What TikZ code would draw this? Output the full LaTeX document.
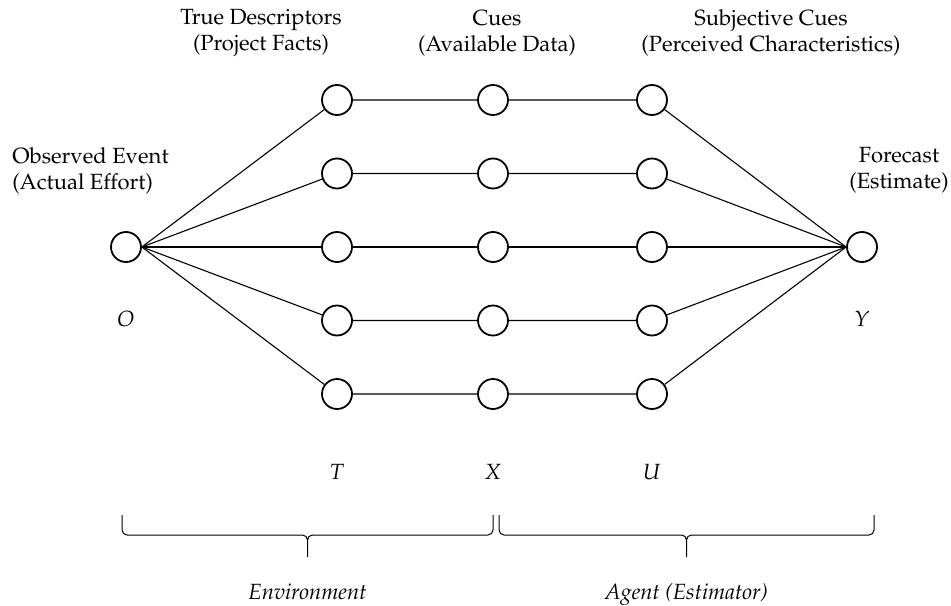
\documentclass[tikz,border=0pt]{standalone}
\usepackage[T1]{fontenc}
\usepackage{mathpazo}
\usetikzlibrary{positioning}

\begin{document}
\begin{tikzpicture}[
        x=1pt, y=1pt,
        font=\fontsize{11}{13}\selectfont,
        unit/.style={draw, circle, minimum size=15pt, inner sep=0pt, line width=0.9pt},
        lbl/.style={align=center, inner sep=0pt},
        var/.style={inner sep=0pt},
        link/.style={line width=0.55pt},
        brc/.style={line width=0.5pt, rounded corners=2.5pt},
    ]
    \useasboundingbox (-63,-179) rectangle (412.5,123.5);
    \node[unit](O) at (0,0){};
    \node[unit](Y) at (368,0){};
    \foreach \i in {1,...,5}{
        \node[unit](t\i) at (105.5,{(3-\i)*36.75}){};
        \node[unit](x\i) at (183.5,{(3-\i)*36.75}){};
        \node[unit](u\i) at (263,{(3-\i)*36.75}){};
        \draw[link] (O.east) -- (t\i) -- (x\i) -- (u\i) -- (Y.west);
    }
    \node[lbl](tlab) at (67.5,107){True Descriptors\\(Project Facts)};
    \node[lbl](xlab) at (185.5,107){Cues\\(Available Data)};
    \node[lbl](ulab) at (322.5,107){Subjective Cues\\(Perceived Characteristics)};
    \node[lbl, align=left, anchor=west](olab) at (-57,38){Observed Event\\(Actual Effort)};
    \node[lbl](ylab) at (386.5,38.5){Forecast\\(Estimate)};
    \node[var, below=24pt of O](ovar){$O$};
    \node[var, below=24pt of Y](yvar){$Y$};
    \node[var, below=27pt of t5](tvar){$T$};
    \node[var, below=27pt of x5](xvar){$X$};
    \node[var, below=27pt of u5](uvar){$U$};
    \coordinate (envL) at (-2,-134);
    \coordinate (envR) at (183.5,-134);
    \coordinate (envmid) at (90.75,-144);
    \coordinate (envtip) at (90.75,-155);
    \coordinate (agtL) at (186.5,-134);
    \coordinate (agtR) at (374,-134);
    \coordinate (agtmid) at (280.25,-144);
    \coordinate (agttip) at (280.25,-155);
    \draw[brc] (envL) |- (envmid) -- (envtip) (envR) |- (envmid) -- (envtip);
    \draw[brc] (agtL) |- (agtmid) -- (agttip) (agtR) |- (agtmid) -- (agttip);
    \node[var, below=13pt of envtip](envlab){\itshape Environment};
    \node[var, below=13pt of agttip](agtlab){\itshape Agent (Estimator)};
\end{tikzpicture}
\end{document}
